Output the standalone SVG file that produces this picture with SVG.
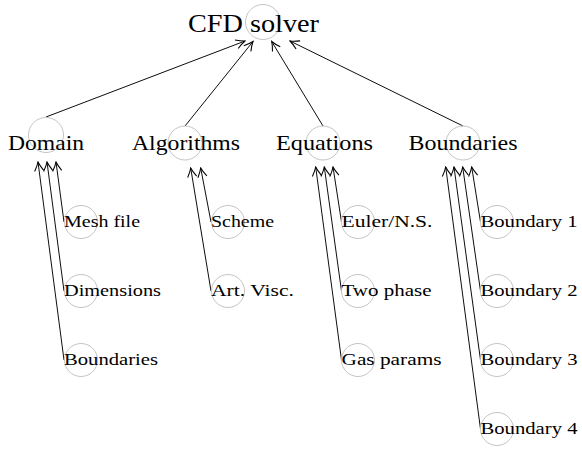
<svg xmlns="http://www.w3.org/2000/svg" width="582" height="449" viewBox="0 0 582 449">
<defs>
<style>
.node circle{fill:none;stroke:#c4c4c4;stroke-width:1}
text{font-family:"Liberation Serif","Times New Roman",serif;fill:#000}
.root text{font-size:26px}
.lvl1 text{font-size:22px}
.lvl2 text{font-size:16.5px}
#connectors line{stroke:#000;stroke-width:0.95;fill:none;marker-end:url(#arr)}
</style>
<marker id="arr" markerUnits="userSpaceOnUse" markerWidth="12" markerHeight="12" viewBox="-9 -5 10 10" refX="0" refY="0" orient="auto">
<path d="M -7.5 -3.8 Q -3 -1 0 0 Q -3 1 -7.5 3.8" fill="none" stroke="#000" stroke-width="0.9"/>
</marker>
</defs>
<rect width="582" height="449" fill="#fff"/>
<g id="connectors">
<line x1="46" y1="117" x2="245" y2="41"/>
<line x1="185" y1="126" x2="253" y2="41.5"/>
<line x1="323" y1="126" x2="271.7" y2="41.5"/>
<line x1="463" y1="126" x2="290" y2="41"/>
<line x1="64" y1="222" x2="56" y2="162"/>
<line x1="64" y1="291" x2="47" y2="162"/>
<line x1="64" y1="360" x2="38" y2="162"/>
<line x1="211" y1="222" x2="200.7" y2="168"/>
<line x1="211" y1="291" x2="190.7" y2="168"/>
<line x1="341.5" y1="222" x2="333" y2="167"/>
<line x1="341.5" y1="291" x2="324.3" y2="167"/>
<line x1="341.5" y1="360" x2="315.7" y2="167"/>
<line x1="480.5" y1="222" x2="471.7" y2="167"/>
<line x1="480.5" y1="291" x2="462.7" y2="167"/>
<line x1="480.5" y1="360" x2="454" y2="167"/>
<line x1="480.5" y1="429" x2="445.7" y2="167"/>
</g>
<g id="cfd-solver" class="node root"><circle cx="263" cy="22" r="17.5"/><text x="188" y="31.5" textLength="131" lengthAdjust="spacingAndGlyphs">CFD solver</text></g>
<g id="domain" class="node lvl1"><circle cx="46" cy="135" r="17.5"/><text x="8" y="150" textLength="76" lengthAdjust="spacingAndGlyphs">Domain</text></g>
<g id="algorithms" class="node lvl1"><circle cx="185" cy="143" r="17"/><text x="132" y="150" textLength="108" lengthAdjust="spacingAndGlyphs">Algorithms</text></g>
<g id="equations" class="node lvl1"><circle cx="323" cy="143" r="17"/><text x="276" y="150" textLength="97" lengthAdjust="spacingAndGlyphs">Equations</text></g>
<g id="boundaries" class="node lvl1"><circle cx="463" cy="143" r="17"/><text x="408.5" y="150" textLength="109" lengthAdjust="spacingAndGlyphs">Boundaries</text></g>
<g id="mesh-file" class="node lvl2"><circle cx="81" cy="222" r="16.5"/><text x="64" y="227" textLength="76" lengthAdjust="spacingAndGlyphs">Mesh file</text></g>
<g id="dimensions" class="node lvl2"><circle cx="81" cy="291" r="16.5"/><text x="64" y="296" textLength="97" lengthAdjust="spacingAndGlyphs">Dimensions</text></g>
<g id="domain-boundaries" class="node lvl2"><circle cx="81" cy="360" r="16.5"/><text x="64" y="365" textLength="94" lengthAdjust="spacingAndGlyphs">Boundaries</text></g>
<g id="scheme" class="node lvl2"><circle cx="228" cy="222" r="16.5"/><text x="211" y="227" textLength="63" lengthAdjust="spacingAndGlyphs">Scheme</text></g>
<g id="art-visc" class="node lvl2"><circle cx="228" cy="291" r="16.5"/><text x="211" y="296" textLength="83" lengthAdjust="spacingAndGlyphs">Art. Visc.</text></g>
<g id="euler-ns" class="node lvl2"><circle cx="358" cy="222" r="16.5"/><text x="341.5" y="227" textLength="91" lengthAdjust="spacingAndGlyphs">Euler/N.S.</text></g>
<g id="two-phase" class="node lvl2"><circle cx="358" cy="291" r="16.5"/><text x="341.5" y="296" textLength="90" lengthAdjust="spacingAndGlyphs">Two phase</text></g>
<g id="gas-params" class="node lvl2"><circle cx="358" cy="360" r="16.5"/><text x="341.5" y="365" textLength="100" lengthAdjust="spacingAndGlyphs">Gas params</text></g>
<g id="boundary-1" class="node lvl2"><circle cx="497" cy="222" r="16.5"/><text x="480.5" y="227" textLength="97" lengthAdjust="spacingAndGlyphs">Boundary 1</text></g>
<g id="boundary-2" class="node lvl2"><circle cx="497" cy="291" r="16.5"/><text x="480.5" y="296" textLength="97" lengthAdjust="spacingAndGlyphs">Boundary 2</text></g>
<g id="boundary-3" class="node lvl2"><circle cx="497" cy="360" r="16.5"/><text x="480.5" y="365" textLength="97" lengthAdjust="spacingAndGlyphs">Boundary 3</text></g>
<g id="boundary-4" class="node lvl2"><circle cx="497" cy="429" r="16.5"/><text x="480.5" y="434" textLength="97" lengthAdjust="spacingAndGlyphs">Boundary 4</text></g>
</svg>
